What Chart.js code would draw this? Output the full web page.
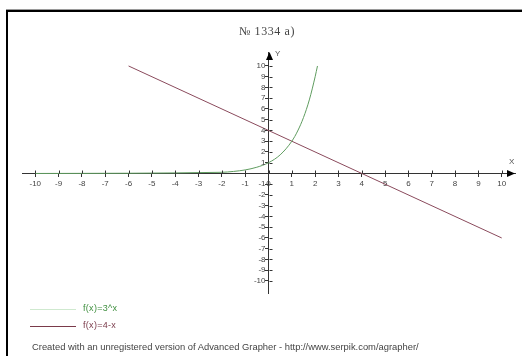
<!DOCTYPE html>
<html>
<head>
<meta charset="utf-8">
<script src="https://cdn.jsdelivr.net/npm/chart.js@4"></script>
<style>
    html, body { margin: 0; padding: 0; background: #fff; }
    #wrap { position: relative; width: 522px; height: 356px; overflow: hidden; }
    #chart { position: absolute; left: 0; top: 0; }
    .frame-top { position: absolute; left: 6px; top: 9px; width: 516px; height: 1px; background: #9a9a9a; }
    .frame-top2 { position: absolute; left: 6px; top: 10px; width: 516px; height: 2px; background: #000; }
    .frame-left { position: absolute; left: 6px; top: 10px; width: 2px; height: 346px; background: #000; }
    .txt { position: absolute; font-family: "Liberation Sans", Arial, sans-serif; white-space: nowrap; }
    #title { left: 0; width: 534px; top: 24px; text-align: center; font: 12px "Liberation Serif", serif; letter-spacing: 0.6px; color: #444; }
    .leg-line { position: absolute; left: 30px; width: 46px; height: 1px; }
    .leg-text { font-size: 9px; left: 83px; letter-spacing: 0.3px; }
    #footer { left: 32px; top: 341px; font-size: 9.4px; color: #444; }
    .axis-name { font-size: 8px; color: #555; }
</style>
</head>
<body>
<div id="wrap">
    <canvas id="chart" width="522" height="356"></canvas>
    <div class="frame-top"></div>
    <div class="frame-top2"></div>
    <div class="frame-left"></div>
    <div id="title" class="txt">№ 1334 a)</div>
    <div class="txt axis-name" style="left:275px; top:49px;">Y</div>
    <div class="txt axis-name" style="left:509px; top:157px;">X</div>
    <div id="legend"></div>
    <div id="footer" class="txt">Created with an unregistered version of Advanced Grapher - http://www.serpik.com/agrapher/</div>
</div>
<script>
    // Series
    var seriesNames = ['f(x)=3^x', 'f(x)=4-x'];
    var seriesColors = ['#5f9c5f', '#8a4a5c'];
    var legendLineColors = ['#cfe9cf', '#7a3a4a'];
    var legendTextColors = ['#3f8f3f', '#7a3a4a'];

    var greenX = [-10, -2, -1.5, -1, -0.5, 0, 0.5, 1, 1.25, 1.5, 1.75, 2, 2.1];
    var greenY = [0, 0.11, 0.19, 0.33, 0.58, 1, 1.73, 3, 3.95, 5.2, 6.84, 9, 10];

    var redX = [-6, 10];
    var redY = [10, -6];

    // Axis ticks and labels
    var xTicks = [-10, -9, -8, -7, -6, -5, -4, -3, -2, -1, 0, 1, 2, 3, 4, 5, 6, 7, 8, 9, 10];
    var xTickLabels = ['-10', '-9', '-8', '-7', '-6', '-5', '-4', '-3', '-2', '-1', '0', '1', '2', '3', '4', '5', '6', '7', '8', '9', '10'];
    var yTicks = [10, 9, 8, 7, 6, 5, 4, 3, 2, 1, -1, -2, -3, -4, -5, -6, -7, -8, -9, -10];
    var yTickLabels = ['10', '9', '8', '7', '6', '5', '4', '3', '2', '1', '-1', '-2', '-3', '-4', '-5', '-6', '-7', '-8', '-9', '-10'];

    function toPoints(xs, ys) {
        return xs.map(function(x, i) { return { x: x, y: ys[i] }; });
    }

    function labelFor(ticks, labels, value) {
        var i = ticks.indexOf(value);
        return i >= 0 ? labels[i] : '';
    }

    // Small legend under the plot
    var legend = document.getElementById('legend');
    seriesNames.forEach(function(name, i) {
        var top = 309 + i * 17;
        var line = document.createElement('div');
        line.className = 'leg-line';
        line.style.top = top + 'px';
        line.style.background = legendLineColors[i];
        legend.appendChild(line);
        var txt = document.createElement('div');
        txt.className = 'txt leg-text';
        txt.style.top = (top - 6) + 'px';
        txt.style.color = legendTextColors[i];
        txt.textContent = name;
        legend.appendChild(txt);
    });

    var fontFamily = '"Liberation Sans", Arial, sans-serif';
    var tickFont = { family: fontFamily, size: 8 };

    // Arrow heads, the other half of each tick cross, and y labels left of the axis
    var axisExtras = {
        id: 'axisExtras',
        afterDraw: function(chart) {
            var ctx = chart.ctx;
            var xs = chart.scales.x;
            var ys = chart.scales.y;
            var ox = Math.round(xs.getPixelForValue(0)) + 0.5;
            var oy = Math.round(ys.getPixelForValue(0)) + 0.5;
            var area = chart.chartArea;

            ctx.save();
            ctx.strokeStyle = '#333';
            ctx.lineWidth = 1;
            ctx.beginPath();
            xs.ticks.forEach(function(t) {
                var px = Math.round(xs.getPixelForValue(t.value)) + 0.5;
                ctx.moveTo(px, oy - 3);
                ctx.lineTo(px, oy);
            });
            ys.ticks.forEach(function(t) {
                var py = Math.round(ys.getPixelForValue(t.value)) + 0.5;
                ctx.moveTo(ox, py);
                ctx.lineTo(ox + 3, py);
            });
            ctx.stroke();

            ctx.fillStyle = '#444';
            ctx.font = '8px ' + fontFamily;
            ctx.textAlign = 'right';
            ctx.textBaseline = 'middle';
            yTicks.forEach(function(v, i) {
                ctx.fillText(yTickLabels[i], ox - 4, ys.getPixelForValue(v));
            });

            ctx.fillStyle = '#000';
            ctx.beginPath();
            ctx.moveTo(area.right, oy);
            ctx.lineTo(area.right - 8, oy - 3.5);
            ctx.lineTo(area.right - 8, oy + 3.5);
            ctx.closePath();
            ctx.fill();

            ctx.beginPath();
            ctx.moveTo(ox, area.top);
            ctx.lineTo(ox - 3.5, area.top + 8);
            ctx.lineTo(ox + 3.5, area.top + 8);
            ctx.closePath();
            ctx.fill();
            ctx.restore();
        }
    };

    new Chart(document.getElementById('chart').getContext('2d'), {
        type: 'scatter',
        data: {
            datasets: [{
                label: seriesNames[0],
                data: toPoints(greenX, greenY),
                showLine: true,
                borderColor: seriesColors[0],
                borderWidth: 1,
                pointRadius: 0,
                cubicInterpolationMode: 'monotone'
            }, {
                label: seriesNames[1],
                data: toPoints(redX, redY),
                showLine: true,
                borderColor: seriesColors[1],
                borderWidth: 1,
                pointRadius: 0
            }]
        },
        options: {
            responsive: false,
            animation: false,
            devicePixelRatio: 1,
            layout: { padding: { left: 22, right: 7, top: 52, bottom: 63 } },
            plugins: {
                legend: { display: false },
                title: { display: false },
                tooltip: { enabled: false }
            },
            scales: {
                x: {
                    type: 'linear',
                    min: -10.57,
                    max: 10.57,
                    position: { y: 0 },
                    afterBuildTicks: function(axis) {
                        axis.ticks = xTicks.map(function(v) { return { value: v }; });
                    },
                    grid: { drawOnChartArea: false, tickLength: 3, color: '#333' },
                    border: { color: '#333', width: 1 },
                    ticks: {
                        autoSkip: false,
                        maxRotation: 0,
                        padding: 3,
                        color: '#444',
                        font: tickFont,
                        callback: function(v) { return labelFor(xTicks, xTickLabels, v); }
                    }
                },
                y: {
                    type: 'linear',
                    min: -11.12,
                    max: 11.3,
                    position: { x: 0 },
                    afterBuildTicks: function(axis) {
                        axis.ticks = yTicks.map(function(v) { return { value: v }; });
                    },
                    grid: { drawOnChartArea: false, tickLength: 3, color: '#333' },
                    border: { color: '#333', width: 1 },
                    ticks: { display: false }
                }
            }
        },
        plugins: [axisExtras]
    });
</script>
</body>
</html>
